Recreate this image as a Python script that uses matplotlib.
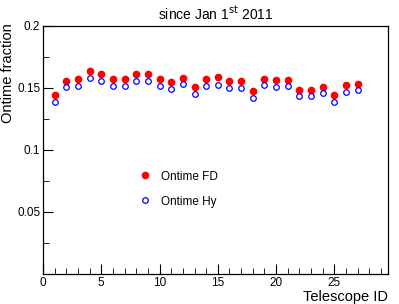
import numpy as np
import matplotlib
matplotlib.use('Agg')
import matplotlib.pyplot as plt
from matplotlib.ticker import MultipleLocator

plt.rcParams['font.family'] = ['Liberation Sans', 'DejaVu Sans']

# Telescope IDs and ontime fractions
telescope = np.arange(1, 28)
ontime_fd = [0.1446, 0.1559, 0.1575, 0.1637, 0.1615, 0.1575, 0.1570, 0.1610, 0.1615,
             0.1570, 0.1548, 0.1583, 0.1508, 0.1575, 0.1586, 0.1559, 0.1559, 0.1478,
             0.1575, 0.1562, 0.1567, 0.1484, 0.1486, 0.1510, 0.1441, 0.1524, 0.1535]
ontime_hy = [0.1389, 0.1505, 0.1513, 0.1578, 0.1556, 0.1518, 0.1516, 0.1556, 0.1559,
             0.1516, 0.1494, 0.1532, 0.1449, 0.1516, 0.1524, 0.1497, 0.1500, 0.1419,
             0.1521, 0.1510, 0.1516, 0.1433, 0.1438, 0.1457, 0.1384, 0.1470, 0.1484]

fig = plt.figure(figsize=(3.99, 3.04), dpi=100)
ax = fig.add_axes([0.1078, 0.0987, 0.8646, 0.8158])

ax.plot(telescope, ontime_fd, 'o', color='red', markersize=4.5, linestyle='none',
        label='Ontime FD')
ax.plot(telescope, ontime_hy, 'o', markerfacecolor='white', markeredgecolor='blue',
        markeredgewidth=0.9, markersize=4, linestyle='none', label='Ontime Hy')

ax.set_xlim(0, 29.6)
ax.set_ylim(0, 0.2)
ax.xaxis.set_major_locator(MultipleLocator(5))
ax.xaxis.set_minor_locator(MultipleLocator(1))
ax.yaxis.set_major_locator(MultipleLocator(0.05))
ax.yaxis.set_minor_locator(MultipleLocator(0.025))
ax.set_yticks([0.05, 0.1, 0.15, 0.2])
ax.set_yticklabels(['0.05', '0.1', '0.15', '0.2'])
ax.tick_params(which='both', direction='in', top=False, right=False, labelsize=8.5,
               pad=2)
ax.tick_params(which='major', length=7)
ax.tick_params(which='minor', length=4)
for s in ax.spines.values():
    s.set_linewidth(0.9)

ax.set_xlabel('Telescope ID', fontsize=10.5, loc='right', labelpad=1)
ax.set_ylabel('Ontime fraction', fontsize=10.5, loc='top')
ax.yaxis.set_label_coords(-0.08, 1.012)
ax.set_title(r'since Jan 1$^{\mathrm{st}}$ 2011', fontsize=10, pad=5)

ax.legend(loc='upper left', bbox_to_anchor=(0.23, 0.46), frameon=False, fontsize=8.5,
          handletextpad=0.4, labelspacing=1.1, numpoints=1)

plt.savefig('out.png', dpi=100)
